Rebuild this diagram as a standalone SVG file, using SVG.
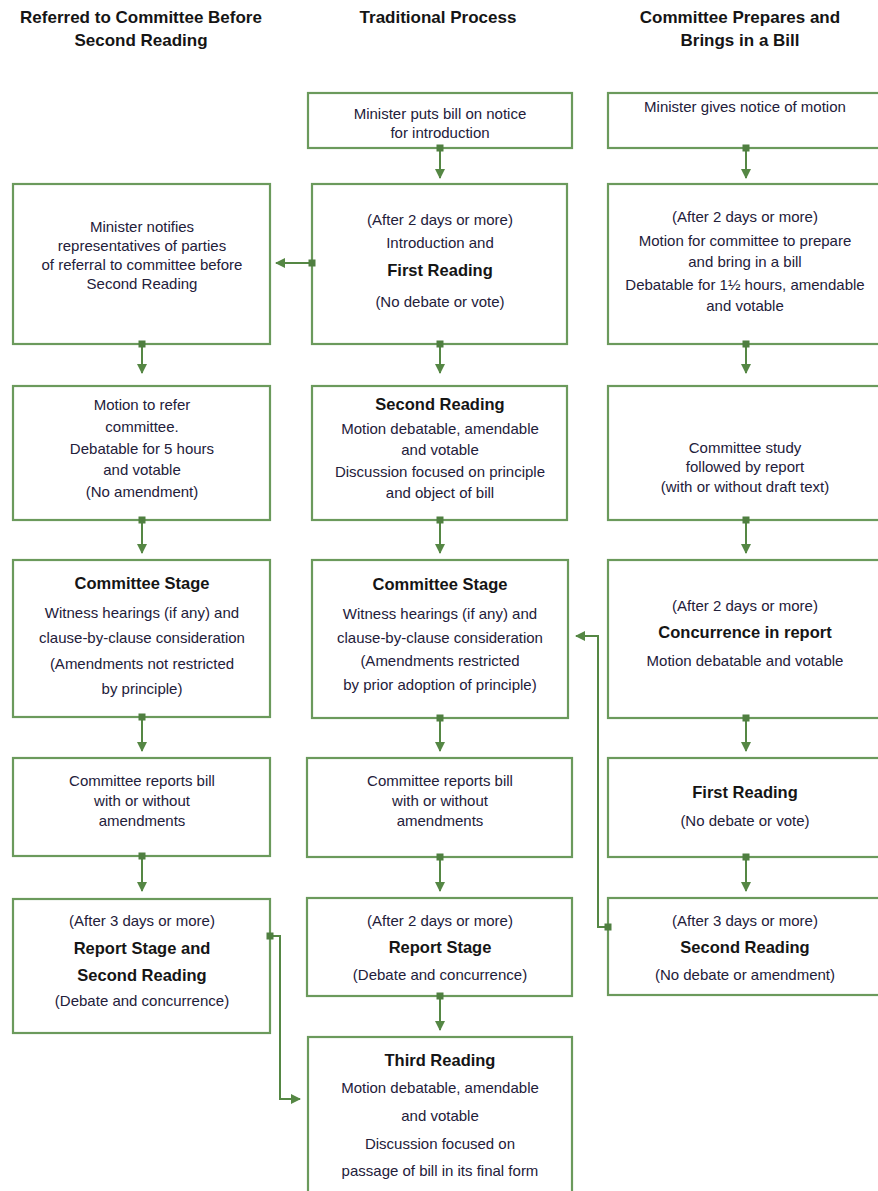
<svg xmlns="http://www.w3.org/2000/svg" width="878" height="1191" viewBox="0 0 878 1191">
<style>
.box{fill:#fff;stroke:#6b9a5c;stroke-width:2.2}
.t{font-family:"Liberation Sans Narrow","Liberation Sans",sans-serif;font-size:15px;fill:#23203a;text-anchor:middle;dominant-baseline:central}
.b{font-weight:bold;font-size:16.5px;fill:#151515}
.h{font-family:"Liberation Sans Narrow","Liberation Sans",sans-serif;font-size:17px;font-weight:bold;fill:#151515;text-anchor:middle;dominant-baseline:central}
.c{fill:none;stroke:#558744;stroke-width:2}
.sq{fill:#4f7f40}
</style>
<defs>
<marker id="ah" viewBox="0 0 10 10" refX="9" refY="5" markerWidth="10" markerHeight="10" markerUnits="userSpaceOnUse" orient="auto">
<path d="M0,0 L10,5 L0,10 z" fill="#558744"/>
</marker>
</defs>
<g id="headers">
<text class="h" x="141" y="17">Referred to Committee Before</text>
<text class="h" x="141" y="40">Second Reading</text>
<text class="h" x="438" y="17">Traditional Process</text>
<text class="h" x="740" y="17">Committee Prepares and</text>
<text class="h" x="740" y="40">Brings in a Bill</text>
</g>
<g id="m1"><rect class="box" x="308" y="93" width="264" height="55"/>
<text class="t" x="440" y="113">Minister puts bill on notice</text>
<text class="t" x="440" y="132">for introduction</text></g>
<g id="r1"><rect class="box" x="608" y="93" width="275" height="55"/>
<text class="t" x="745" y="106">Minister gives notice of motion</text></g>
<g id="l2"><rect class="box" x="13" y="184" width="257" height="160"/>
<text class="t" x="142" y="226">Minister notifies</text>
<text class="t" x="142" y="245">representatives of parties</text>
<text class="t" x="142" y="264">of referral to committee before</text>
<text class="t" x="142" y="283">Second Reading</text></g>
<g id="m2"><rect class="box" x="312" y="184" width="255" height="160"/>
<text class="t" x="440" y="219">(After 2 days or more)</text>
<text class="t" x="440" y="242">Introduction and</text>
<text class="t b" x="440" y="270">First Reading</text>
<text class="t" x="440" y="301">(No debate or vote)</text></g>
<g id="r2"><rect class="box" x="608" y="184" width="275" height="160"/>
<text class="t" x="745" y="216">(After 2 days or more)</text>
<text class="t" x="745" y="240">Motion for committee to prepare</text>
<text class="t" x="745" y="261">and bring in a bill</text>
<text class="t" x="745" y="284">Debatable for 1½ hours, amendable</text>
<text class="t" x="745" y="305">and votable</text></g>
<g id="l3"><rect class="box" x="13" y="386" width="257" height="134"/>
<text class="t" x="142" y="404">Motion to refer</text>
<text class="t" x="142" y="426">committee.</text>
<text class="t" x="142" y="448">Debatable for 5 hours</text>
<text class="t" x="142" y="469">and votable</text>
<text class="t" x="142" y="491">(No amendment)</text></g>
<g id="m3"><rect class="box" x="312" y="386" width="255" height="134"/>
<text class="t b" x="440" y="404">Second Reading</text>
<text class="t" x="440" y="428">Motion debatable, amendable</text>
<text class="t" x="440" y="449">and votable</text>
<text class="t" x="440" y="471">Discussion focused on principle</text>
<text class="t" x="440" y="492">and object of bill</text></g>
<g id="r3"><rect class="box" x="608" y="386" width="275" height="134"/>
<text class="t" x="745" y="447">Committee study</text>
<text class="t" x="745" y="466">followed by report</text>
<text class="t" x="745" y="486">(with or without draft text)</text></g>
<g id="l4"><rect class="box" x="13" y="560" width="257" height="157"/>
<text class="t b" x="142" y="583">Committee Stage</text>
<text class="t" x="142" y="612">Witness hearings (if any) and</text>
<text class="t" x="142" y="637">clause-by-clause consideration</text>
<text class="t" x="142" y="663">(Amendments not restricted</text>
<text class="t" x="142" y="688">by principle)</text></g>
<g id="m4"><rect class="box" x="312" y="560" width="256" height="158"/>
<text class="t b" x="440" y="584">Committee Stage</text>
<text class="t" x="440" y="613">Witness hearings (if any) and</text>
<text class="t" x="440" y="637">clause-by-clause consideration</text>
<text class="t" x="440" y="660">(Amendments restricted</text>
<text class="t" x="440" y="684">by prior adoption of principle)</text></g>
<g id="r4"><rect class="box" x="608" y="560" width="275" height="158"/>
<text class="t" x="745" y="605">(After 2 days or more)</text>
<text class="t b" x="745" y="632">Concurrence in report</text>
<text class="t" x="745" y="660">Motion debatable and votable</text></g>
<g id="l5"><rect class="box" x="13" y="758" width="257" height="98"/>
<text class="t" x="142" y="780">Committee reports bill</text>
<text class="t" x="142" y="800">with or without</text>
<text class="t" x="142" y="820">amendments</text></g>
<g id="m5"><rect class="box" x="307" y="758" width="265" height="99"/>
<text class="t" x="440" y="780">Committee reports bill</text>
<text class="t" x="440" y="800">with or without</text>
<text class="t" x="440" y="820">amendments</text></g>
<g id="r5"><rect class="box" x="608" y="758" width="275" height="99"/>
<text class="t b" x="745" y="792">First Reading</text>
<text class="t" x="745" y="820">(No debate or vote)</text></g>
<g id="l6"><rect class="box" x="13" y="899" width="257" height="134"/>
<text class="t" x="142" y="920">(After 3 days or more)</text>
<text class="t b" x="142" y="948">Report Stage and</text>
<text class="t b" x="142" y="975">Second Reading</text>
<text class="t" x="142" y="1000">(Debate and concurrence)</text></g>
<g id="m6"><rect class="box" x="307" y="898" width="265" height="98"/>
<text class="t" x="440" y="920">(After 2 days or more)</text>
<text class="t b" x="440" y="947">Report Stage</text>
<text class="t" x="440" y="974">(Debate and concurrence)</text></g>
<g id="r6"><rect class="box" x="608" y="898" width="275" height="97"/>
<text class="t" x="745" y="920">(After 3 days or more)</text>
<text class="t b" x="745" y="947">Second Reading</text>
<text class="t" x="745" y="974">(No debate or amendment)</text></g>
<g id="m7"><rect class="box" x="308" y="1037" width="264" height="160"/>
<text class="t b" x="440" y="1060">Third Reading</text>
<text class="t" x="440" y="1087">Motion debatable, amendable</text>
<text class="t" x="440" y="1115">and votable</text>
<text class="t" x="440" y="1143">Discussion focused on</text>
<text class="t" x="440" y="1170">passage of bill in its final form</text></g>
<g id="connectors">
<path class="c" marker-end="url(#ah)" d="M440,148 V178"/>
<path class="c" marker-end="url(#ah)" d="M746,148 V178"/>
<path class="c" marker-end="url(#ah)" d="M312,263 H276"/>
<path class="c" marker-end="url(#ah)" d="M142,344 V373"/>
<path class="c" marker-end="url(#ah)" d="M440,344 V373"/>
<path class="c" marker-end="url(#ah)" d="M746,344 V373"/>
<path class="c" marker-end="url(#ah)" d="M142,520 V553"/>
<path class="c" marker-end="url(#ah)" d="M440,520 V553"/>
<path class="c" marker-end="url(#ah)" d="M746,520 V553"/>
<path class="c" marker-end="url(#ah)" d="M142,717 V751"/>
<path class="c" marker-end="url(#ah)" d="M440,718 V751"/>
<path class="c" marker-end="url(#ah)" d="M746,718 V751"/>
<path class="c" marker-end="url(#ah)" d="M142,856 V891"/>
<path class="c" marker-end="url(#ah)" d="M440,857 V891"/>
<path class="c" marker-end="url(#ah)" d="M746,857 V891"/>
<path class="c" marker-end="url(#ah)" d="M440,996 V1030"/>
<path class="c" marker-end="url(#ah)" d="M608,927 H598 V636 H576"/>
<path class="c" marker-end="url(#ah)" d="M270,936 H280 V1099 H300"/>
<rect class="sq" x="436.5" y="144.5" width="7" height="7"/>
<rect class="sq" x="742.5" y="144.5" width="7" height="7"/>
<rect class="sq" x="308.5" y="259.5" width="7" height="7"/>
<rect class="sq" x="138.5" y="340.5" width="7" height="7"/>
<rect class="sq" x="436.5" y="340.5" width="7" height="7"/>
<rect class="sq" x="742.5" y="340.5" width="7" height="7"/>
<rect class="sq" x="138.5" y="516.5" width="7" height="7"/>
<rect class="sq" x="436.5" y="516.5" width="7" height="7"/>
<rect class="sq" x="742.5" y="516.5" width="7" height="7"/>
<rect class="sq" x="138.5" y="713.5" width="7" height="7"/>
<rect class="sq" x="436.5" y="714.5" width="7" height="7"/>
<rect class="sq" x="742.5" y="714.5" width="7" height="7"/>
<rect class="sq" x="138.5" y="852.5" width="7" height="7"/>
<rect class="sq" x="436.5" y="853.5" width="7" height="7"/>
<rect class="sq" x="742.5" y="853.5" width="7" height="7"/>
<rect class="sq" x="436.5" y="992.5" width="7" height="7"/>
<rect class="sq" x="604.5" y="923.5" width="7" height="7"/>
<rect class="sq" x="266.5" y="932.5" width="7" height="7"/>
</g>
</svg>
